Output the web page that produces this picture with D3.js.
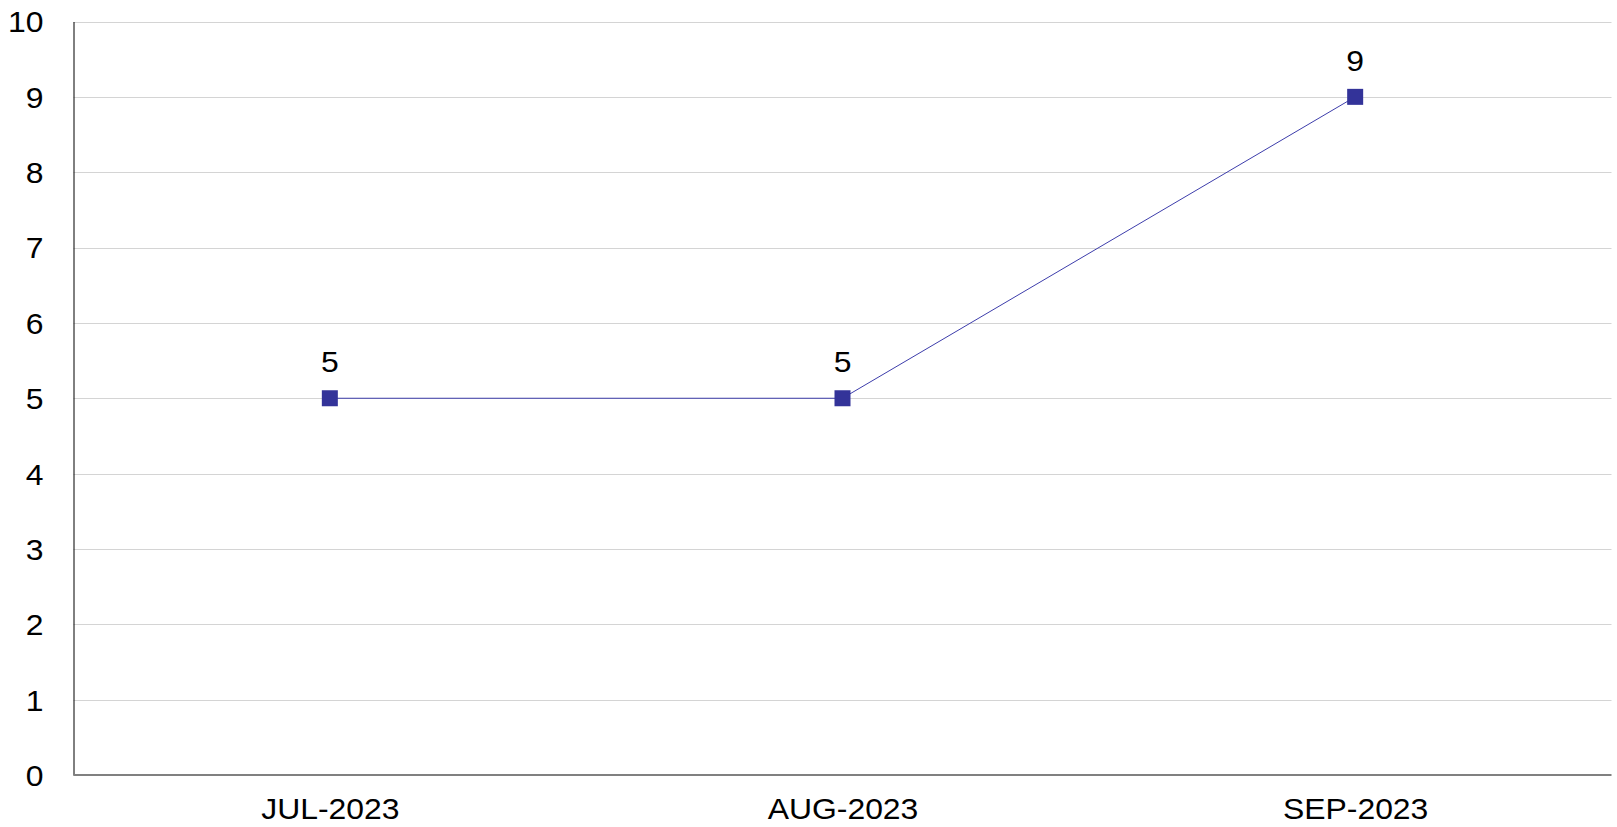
<!DOCTYPE html>
<html>
<head>
<meta charset="utf-8">
<script src="https://cdn.jsdelivr.net/npm/d3@7"></script>
<style>
  html, body { margin: 0; padding: 0; background: #fff; }
  svg { display: block; }
  text { font-family: "Liberation Sans", Arial, sans-serif; fill: #000; }
</style>
</head>
<body>
<svg id="chart" width="1617" height="827"></svg>
<script>
const categories = ["JUL-2023", "AUG-2023", "SEP-2023"];
const values = [5, 5, 9];
const yTicks = [0, 1, 2, 3, 4, 5, 6, 7, 8, 9, 10];

const W = 1617, H = 827;
const margin = { left: 73.5, right: 5.5, top: 21.5, bottom: 52 };
const svg = d3.select("#chart");

const x = d3.scalePoint()
  .domain(categories)
  .range([margin.left, W - margin.right])
  .padding(0.5);

const y = d3.scaleLinear()
  .domain([0, 10])
  .range([H - margin.bottom, margin.top]);

const fs = 29, sx = 1.1;

// gridlines
svg.append("g")
  .selectAll("line")
  .data(yTicks.filter(d => d > 0))
  .join("line")
  .attr("x1", margin.left)
  .attr("x2", W - margin.right)
  .attr("y1", d => Math.round(y(d)) + 0.5)
  .attr("y2", d => Math.round(y(d)) + 0.5)
  .attr("stroke", "#d4d4d4")
  .attr("stroke-width", 1);

// y axis
const yAxis = svg.append("g")
  .attr("transform", `translate(${margin.left},0)`)
  .call(d3.axisLeft(y).tickValues(yTicks).tickSize(0).tickPadding(30).tickFormat(d3.format("d")));
yAxis.select(".domain").attr("stroke", "#000").attr("stroke-width", 1);
yAxis.selectAll(".tick text")
  .attr("font-size", fs)
  .attr("font-family", "Liberation Sans, Arial, sans-serif")
  .attr("fill", "#000")
  .attr("dy", "0.36em")
  .attr("transform", function() {
    const xx = +d3.select(this).attr("x");
    return `translate(${xx},0) scale(${sx},1) translate(${-xx},0)`;
  });

// x axis
const xAxis = svg.append("g")
  .attr("transform", `translate(0,${y(0)})`)
  .call(d3.axisBottom(x).tickSize(0).tickPadding(0));
xAxis.select(".domain").remove();
xAxis.append("line")
  .attr("x1", margin.left).attr("x2", W - margin.right)
  .attr("y1", 0).attr("y2", 0)
  .attr("stroke", "#808080").attr("stroke-width", 2);
xAxis.selectAll(".tick text")
  .attr("font-size", fs)
  .attr("font-family", "Liberation Sans, Arial, sans-serif")
  .attr("fill", "#000")
  .attr("y", 44)
  .attr("dy", 0)
  .attr("transform", `scale(${sx},1)`);

// line
svg.append("path")
  .datum(values)
  .attr("fill", "none")
  .attr("stroke", "#3d3dab")
  .attr("stroke-width", 1)
  .attr("d", d3.line().x((d, i) => x(categories[i])).y(d => y(d)));

// markers
const ms = 16;
svg.append("g")
  .selectAll("rect")
  .data(values)
  .join("rect")
  .attr("x", (d, i) => x(categories[i]) - ms / 2)
  .attr("y", d => y(d) - ms / 2)
  .attr("width", ms)
  .attr("height", ms)
  .attr("fill", "#333399");

// data labels
svg.append("g")
  .selectAll("g")
  .data(values)
  .join("g")
  .attr("transform", (d, i) => `translate(${x(categories[i])},${y(d) - 26}) scale(${sx},1)`)
  .append("text")
  .attr("text-anchor", "middle")
  .attr("font-size", fs)
  .text(d => d);
</script>
</body>
</html>
